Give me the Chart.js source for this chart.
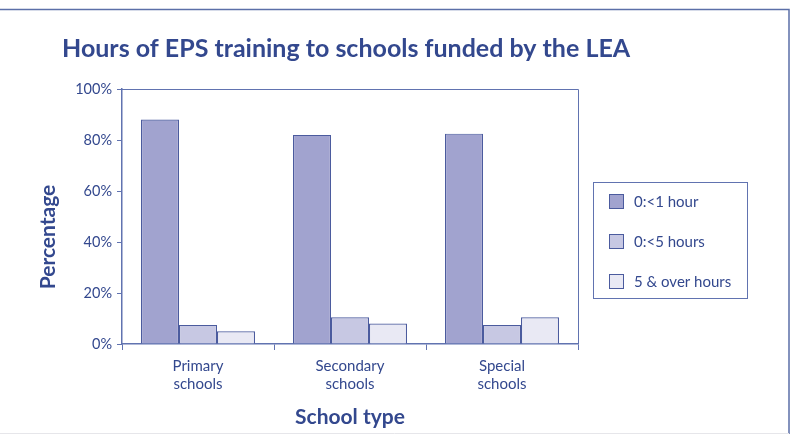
<!DOCTYPE html>
<html>
<head>
<meta charset="utf-8">
<script src="https://cdn.jsdelivr.net/npm/chart.js@4"></script>
<style>
  html, body { margin: 0; padding: 0; background: #fff; }
  #wrap { width: 792px; height: 434px; }
</style>
</head>
<body>
<div id="wrap"><canvas id="epsChart" width="792" height="434"></canvas></div>
<script>
const categories = [['Primary', 'schools'], ['Secondary', 'schools'], ['Special', 'schools']];
const seriesNames = ['0:<1 hour', '0:<5 hours', '5 & over hours'];
const underOneHour = [88, 82, 82.5];
const underFiveHours = [7.5, 10.5, 7.5];
const fiveAndOver = [5, 8, 10.5];
const yTicks = [0, 20, 40, 60, 80, 100];

const textColor = '#33488e';
const axisColor = '#6173b0';
const barEdge = '#4b5b9e';
const fills = ['#a1a3cf', '#c7c8e3', '#e9e9f4'];
const fontFamily = 'Lato, "Open Sans", sans-serif';

// frame, chart title, y title, plot box and the boxed legend
const decorations = {
    id: 'decorations',
    beforeDraw(chart) {
        const ctx = chart.ctx;
        ctx.save();
        ctx.strokeStyle = '#5b6fa8';
        ctx.lineWidth = 1.5;
        ctx.beginPath();
        ctx.moveTo(0, 9.5);
        ctx.lineTo(789, 9.5);
        ctx.lineTo(789, 434);
        ctx.stroke();
        ctx.strokeStyle = '#e6e6ea';
        ctx.lineWidth = 1;
        ctx.beginPath();
        ctx.moveTo(0, 433.5);
        ctx.lineTo(789, 433.5);
        ctx.stroke();

        ctx.fillStyle = textColor;
        ctx.font = 'bold 25px ' + fontFamily;
        ctx.textBaseline = 'middle';
        ctx.textAlign = 'left';
        ctx.fillText('Hours of EPS training to schools funded by the LEA', 62, 49);

        ctx.translate(48, 237);
        ctx.rotate(-Math.PI / 2);
        ctx.font = 'bold 21px ' + fontFamily;
        ctx.textAlign = 'center';
        ctx.fillText('Percentage', 0, 0);
        ctx.restore();
    },
    afterDraw(chart) {
        const ctx = chart.ctx;
        const a = chart.chartArea;
        ctx.save();
        ctx.strokeStyle = axisColor;
        ctx.lineWidth = 1;
        ctx.beginPath();
        ctx.moveTo(a.left, a.top + 0.5);
        ctx.lineTo(a.right + 0.5, a.top + 0.5);
        ctx.lineTo(a.right + 0.5, a.bottom);
        ctx.stroke();

        ctx.strokeRect(593.5, 182.5, 154, 116);
        ctx.font = '15px ' + fontFamily;
        ctx.textBaseline = 'middle';
        ctx.textAlign = 'left';
        chart.data.datasets.forEach((ds, i) => {
            const y = 201 + i * 40;
            ctx.fillStyle = ds.backgroundColor;
            ctx.fillRect(609, y - 7, 15, 15);
            ctx.strokeStyle = barEdge;
            ctx.strokeRect(609.5, y - 6.5, 14, 14);
            ctx.fillStyle = textColor;
            ctx.fillText(ds.label, 634, y + 1);
        });
        ctx.restore();
    }
};

const ctx = document.getElementById('epsChart').getContext('2d');

new Chart(ctx, {
    type: 'bar',
    data: {
        labels: categories,
        datasets: [
            { label: seriesNames[0], data: underOneHour, backgroundColor: fills[0] },
            { label: seriesNames[1], data: underFiveHours, backgroundColor: fills[1] },
            { label: seriesNames[2], data: fiveAndOver, backgroundColor: fills[2] }
        ].map(ds => Object.assign(ds, {
            borderColor: barEdge,
            borderWidth: 1.2,
            borderSkipped: 'bottom',
            categoryPercentage: 0.75,
            barPercentage: 1
        }))
    },
    options: {
        responsive: false,
        animation: false,
        layout: { padding: { top: 89, right: 214, bottom: 0, left: 0 } },
        plugins: {
            legend: { display: false },
            title: { display: false },
            tooltip: { enabled: false }
        },
        scales: {
            x: {
                offset: true,
                grid: {
                    offset: true,
                    drawOnChartArea: false,
                    drawTicks: true,
                    tickLength: 6,
                    color: axisColor
                },
                border: { color: axisColor, width: 1.5 },
                ticks: {
                    color: textColor,
                    font: { family: fontFamily, size: 15, lineHeight: 1.15 },
                    padding: 8,
                    maxRotation: 0
                },
                title: {
                    display: true,
                    text: 'School type',
                    color: textColor,
                    font: { family: fontFamily, size: 21, weight: 'bold' },
                    padding: { top: 0, bottom: 4 }
                },
                afterFit(scale) { scale.height = 90; }
            },
            y: {
                min: 0,
                max: 100,
                afterBuildTicks(scale) { scale.ticks = yTicks.map(v => ({ value: v })); },
                grid: {
                    drawOnChartArea: false,
                    drawTicks: true,
                    tickLength: 5,
                    color: axisColor
                },
                border: { color: axisColor, width: 1.5 },
                ticks: {
                    color: textColor,
                    font: { family: fontFamily, size: 14.5 },
                    padding: 5,
                    callback: v => v + '%'
                },
                afterFit(scale) { scale.width = 122; }
            }
        }
    },
    plugins: [decorations]
});
</script>
</body>
</html>
